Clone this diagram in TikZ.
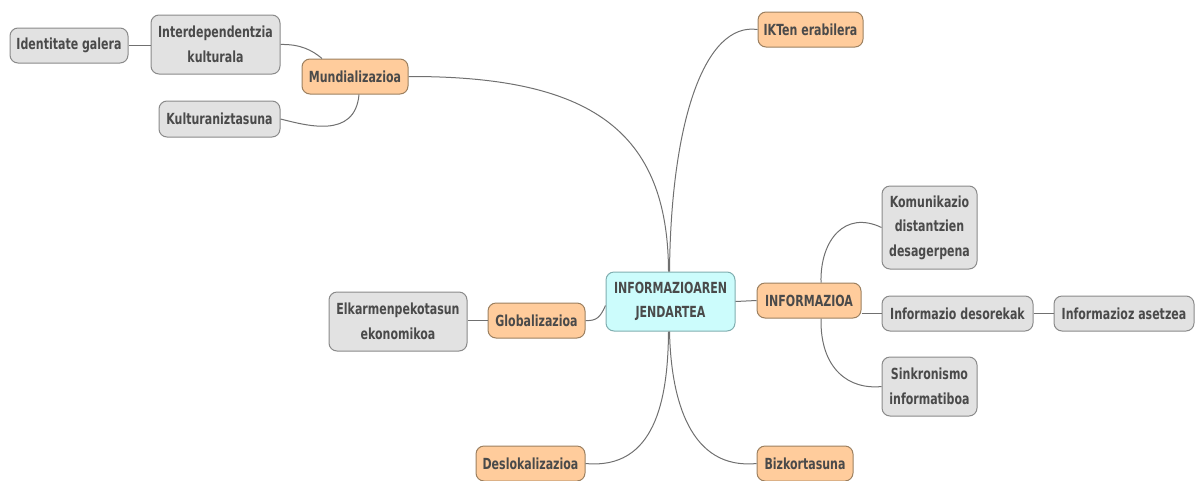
\documentclass[tikz,border=0pt]{standalone}
\usepackage{fontspec}
\newfontfamily\nodefont{DejaVu Sans Condensed}[BoldFont={DejaVu Sans Condensed Bold}, FakeStretch=0.8]
\definecolor{txt}{HTML}{4A4A4A}
\definecolor{orfill}{HTML}{FFCC9C}
\definecolor{ordraw}{HTML}{9C8060}
\definecolor{gyfill}{HTML}{E2E2E2}
\definecolor{gydraw}{HTML}{8A8A8A}
\definecolor{cyfill}{HTML}{CCFCFC}
\definecolor{cydraw}{HTML}{80AEB0}
\definecolor{wire}{HTML}{707070}
\begin{document}
\begin{tikzpicture}[x=1pt,y=-1pt,
  box/.style={rounded corners=8pt, line width=1pt, align=center, inner sep=0pt,
    text=txt, font=\nodefont\bfseries\fontsize{15.3}{24.5}\selectfont},
  topic/.style={box, fill=orfill, draw=ordraw},
  leaf/.style={box, fill=gyfill, draw=gydraw},
  hub/.style={box, fill=cyfill, draw=cydraw},
  wire/.style={draw=wire, line width=1pt}]
\useasboundingbox (0,0) rectangle (1196,480);

% central node
\node[hub, minimum width=129pt, minimum height=59pt] (jen) at (670.5,301.5) {INFORMAZIOAREN\\JENDARTEA};

% main topics
\node[topic, minimum width=106pt, minimum height=35pt] (mund) at (355,76.5) {Mundializazioa};
\node[topic, minimum width=105pt, minimum height=35pt] (ikt) at (810.5,29.5) {IKTen erabilera};
\node[topic, minimum width=104pt, minimum height=35pt] (info) at (809,300.5) {INFORMAZIOA};
\node[topic, minimum width=97pt, minimum height=35pt] (glob) at (536.5,320.5) {Globalizazioa};
\node[topic, minimum width=109pt, minimum height=35pt] (desl) at (530.5,463.5) {Deslokalizazioa};
\node[topic, minimum width=96pt, minimum height=35pt] (bizk) at (805,463.5) {Bizkortasuna};

% sub topics
\node[leaf, minimum width=118pt, minimum height=35pt] (iden) at (69,45.5) {Identitate galera};
\node[leaf, minimum width=129pt, minimum height=59pt] (inter) at (215.5,44.5) {Interdependentzia\\kulturala};
\node[leaf, minimum width=121pt, minimum height=36pt] (kult) at (219.5,119) {Kulturaniztasuna};
\node[leaf, minimum width=95pt, minimum height=83pt] (komu) at (929.5,227.5) {Komunikazio\\distantzien\\desagerpena};
\node[leaf, minimum width=151pt, minimum height=35pt] (deso) at (957.5,313.5) {Informazio desorekak};
\node[leaf, minimum width=140pt, minimum height=35pt] (aset) at (1124,313.5) {Informazioz asetzea};
\node[leaf, minimum width=95pt, minimum height=59pt] (sink) at (929.5,386.5) {Sinkronismo\\informatiboa};
\node[leaf, minimum width=138pt, minimum height=59pt] (elka) at (398,321.5) {Elkarmenpekotasun\\ekonomikoa};

% connectors from the central node
\draw[wire] (mund.east) .. controls (590,76) and (668,130) .. ([xshift=-2pt]jen.north);
\draw[wire] (ikt.west) .. controls (705,22) and (671,120) .. ([xshift=-1pt]jen.north);
\draw[wire] (desl.east) .. controls (655,470) and (668,400) .. ([xshift=-2pt]jen.south);
\draw[wire] (bizk.west) .. controls (690,470) and (671,400) .. ([xshift=-1pt]jen.south);
\draw[wire] (glob.east) .. controls (596,321) and (600,318) .. ([yshift=-4pt]jen.west);
\draw[wire] (jen.east) -- (info.west);

% INFORMAZIOA branch
\draw[wire] ([xshift=12pt]info.north) .. controls (820,240) and (845,210) .. (komu.west);
\draw[wire] ([xshift=12pt]info.south) .. controls (820,370) and (850,390) .. (sink.west);
\draw[wire] (info.east |- deso.west) -- (deso.west);
\draw[wire] (deso.east) -- (aset.west);

% Mundializazioa branch
\draw[wire] (inter.east) .. controls (300,44) and (312,50) .. ([xshift=-33pt]mund.north);
\draw[wire] (kult.east) .. controls (305,125) and (355,140) .. ([xshift=4pt]mund.south);
\draw[wire] (iden.east) -- (inter.west |- iden.east);

% Globalizazioa branch
\draw[wire] (elka.east |- glob.west) -- (glob.west);
\end{tikzpicture}
\end{document}
